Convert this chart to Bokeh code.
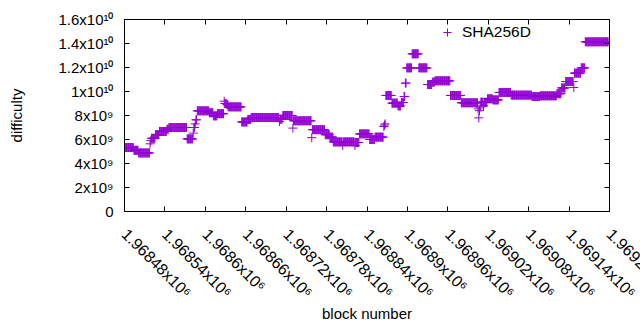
import math
import numpy as np
from bokeh.plotting import figure
from bokeh.models import FixedTicker, LinearAxis, Legend, LegendItem, Range1d, ColumnDataSource
from bokeh.embed import file_html
from bokeh.resources import INLINE

# ---- data: difficulty per block, stored as runs (start block, value); each run lasts until the next start ----
run_start = [
    1968480, 1968494, 1968501, 1968518, 1968519, 1968520, 1968526, 1968532, 1968543, 1968546,
    1968573, 1968582, 1968583, 1968585, 1968586, 1968588, 1968606, 1968612, 1968618, 1968628,
    1968629, 1968632, 1968634, 1968654, 1968663, 1968668, 1968710, 1968711, 1968715, 1968730,
    1968731, 1968758, 1968759, 1968778, 1968785, 1968790, 1968804, 1968805, 1968822, 1968823,
    1968829, 1968844, 1968852, 1968865, 1968866, 1968867, 1968868, 1968877, 1968886, 1968891,
    1968895, 1968897, 1968899, 1968907, 1968917, 1968930, 1968937, 1968941, 1968964, 1968980,
    1969005, 1969006, 1969007, 1969008, 1969009, 1969013, 1969014, 1969019, 1969027, 1969036,
    1969054, 1969085, 1969097, 1969122, 1969129, 1969135, 1969147, 1969148, 1969158, 1969164,
]
run_value = [
    5.33e9, 5.10e9, 4.88e9, 5.64e9, 5.90e9, 6.10e9, 6.40e9, 6.67e9, 6.85e9, 7.00e9,
    6.05e9, 6.53e9, 7.00e9, 7.30e9, 7.64e9, 8.39e9, 8.23e9, 7.97e9, 8.15e9, 9.19e9,
    9.00e9, 8.90e9, 8.72e9, 7.46e9, 7.67e9, 7.83e9, 7.50e9, 7.70e9, 8.00e9, 6.95e9,
    7.56e9, 6.15e9, 6.82e9, 6.40e9, 6.20e9, 5.80e9, 5.50e9, 5.80e9, 5.50e9, 5.75e9,
    6.47e9, 6.00e9, 6.20e9, 7.08e9, 7.20e9, 7.30e9, 9.67e9, 9.03e9, 8.80e9, 9.08e9,
    9.58e9, 10.70e9, 11.97e9, 13.14e9, 11.97e9, 10.58e9, 10.78e9, 10.89e9, 9.67e9, 9.06e9,
    8.55e9, 7.80e9, 8.40e9, 8.70e9, 9.11e9, 8.80e9, 9.10e9, 9.39e9, 9.30e9, 9.92e9,
    9.70e9, 9.58e9, 9.64e9, 9.82e9, 10.30e9, 10.83e9, 10.33e9, 11.53e9, 11.97e9, 14.14e9,
]
last_block = 1969198

x_ticks = [1968480, 1968540, 1968600, 1968660, 1968720, 1968780, 1968840,
           1968900, 1968960, 1969020, 1969080, 1969140, 1969200]
x_tick_labels = ["1.96848x10⁶", "1.96854x10⁶", "1.9686x10⁶", "1.96866x10⁶", "1.96872x10⁶",
                 "1.96878x10⁶", "1.96884x10⁶", "1.9689x10⁶", "1.96896x10⁶", "1.96902x10⁶",
                 "1.96908x10⁶", "1.96914x10⁶", "1.9692x10⁶"]
y_ticks = [0, 2000000000, 4000000000, 6000000000, 8000000000,
           10000000000, 12000000000, 14000000000, 16000000000]
y_tick_labels = ["0", "2x10⁹", "4x10⁹", "6x10⁹", "8x10⁹",
                 "1x10¹⁰", "1.2x10¹⁰", "1.4x10¹⁰", "1.6x10¹⁰"]
series_name = "SHA256D"

# run-length decode
ends = run_start[1:] + [last_block + 1]
blocks = np.concatenate([np.arange(s, e) for s, e in zip(run_start, ends)])
diffs = np.concatenate([np.full(e - s, v) for s, e, v in zip(run_start, ends, run_value)])
src = ColumnDataSource(dict(block=blocks, difficulty=diffs))

FONT = "Liberation Sans"
FS = "15px"
COLOR = "#9400D3"

# canvas is wider than the window so the last rotated tick label runs off the edge, as in the original
p = figure(width=700, height=330, output_backend="svg", toolbar_location=None,
           x_range=Range1d(x_ticks[0], x_ticks[-1]), y_range=Range1d(y_ticks[0], y_ticks[-1]),
           min_border_left=124, min_border_right=91, min_border_top=19, min_border_bottom=119)
p.background_fill_color = "white"
p.border_fill_color = "white"
p.outline_line_color = "black"
p.outline_line_width = 1
p.xgrid.visible = False
p.ygrid.visible = False

r = p.scatter("block", "difficulty", source=src, marker="cross", size=9,
              line_color=COLOR, line_width=1)

def style(ax):
    ax.major_tick_in = 5
    ax.major_tick_out = 0
    ax.minor_tick_line_color = None
    ax.axis_line_color = "black"
    ax.major_tick_line_color = "black"
    ax.major_label_text_font = FONT
    ax.major_label_text_font_size = FS
    ax.major_label_text_color = "black"
    ax.axis_label_text_font = FONT
    ax.axis_label_text_font_size = FS
    ax.axis_label_text_font_style = "normal"
    ax.axis_label_text_color = "black"

xa = p.xaxis[0]
style(xa)
xa.ticker = FixedTicker(ticks=x_ticks)
xa.major_label_overrides = dict(zip(x_ticks, x_tick_labels))
xa.major_label_orientation = -math.pi / 4
xa.major_label_text_font_size = "16px"
xa.major_label_standoff = 20
xa.axis_label = "block number"
xa.axis_label_standoff = -5

ya = p.yaxis[0]
style(ya)
ya.ticker = FixedTicker(ticks=y_ticks)
ya.major_label_overrides = dict(zip(y_ticks, y_tick_labels))
ya.major_label_standoff = 11
ya.axis_label = "difficulty"
ya.axis_label_standoff = 30

# mirrored ticks on top and right (no labels)
top = LinearAxis(ticker=FixedTicker(ticks=x_ticks),
                 major_label_overrides={t: "" for t in x_ticks})
style(top)
top.major_label_standoff = 0
top.major_label_text_font_size = "0px"
p.add_layout(top, "above")
right = LinearAxis(ticker=FixedTicker(ticks=y_ticks),
                   major_label_overrides={t: "" for t in y_ticks})
style(right)
right.major_label_standoff = 0
right.major_label_text_font_size = "0px"
p.add_layout(right, "right")

legend = Legend(items=[LegendItem(label=series_name, renderers=[r])],
                location=(313, 169), padding=0, margin=0, spacing=0,
                glyph_width=20, glyph_height=20, label_standoff=5,
                label_text_font=FONT, label_text_font_size="15.5px",
                label_text_color="black", border_line_color=None, background_fill_alpha=0)
p.add_layout(legend)

open("out.html", "w").write(file_html(p, INLINE))
